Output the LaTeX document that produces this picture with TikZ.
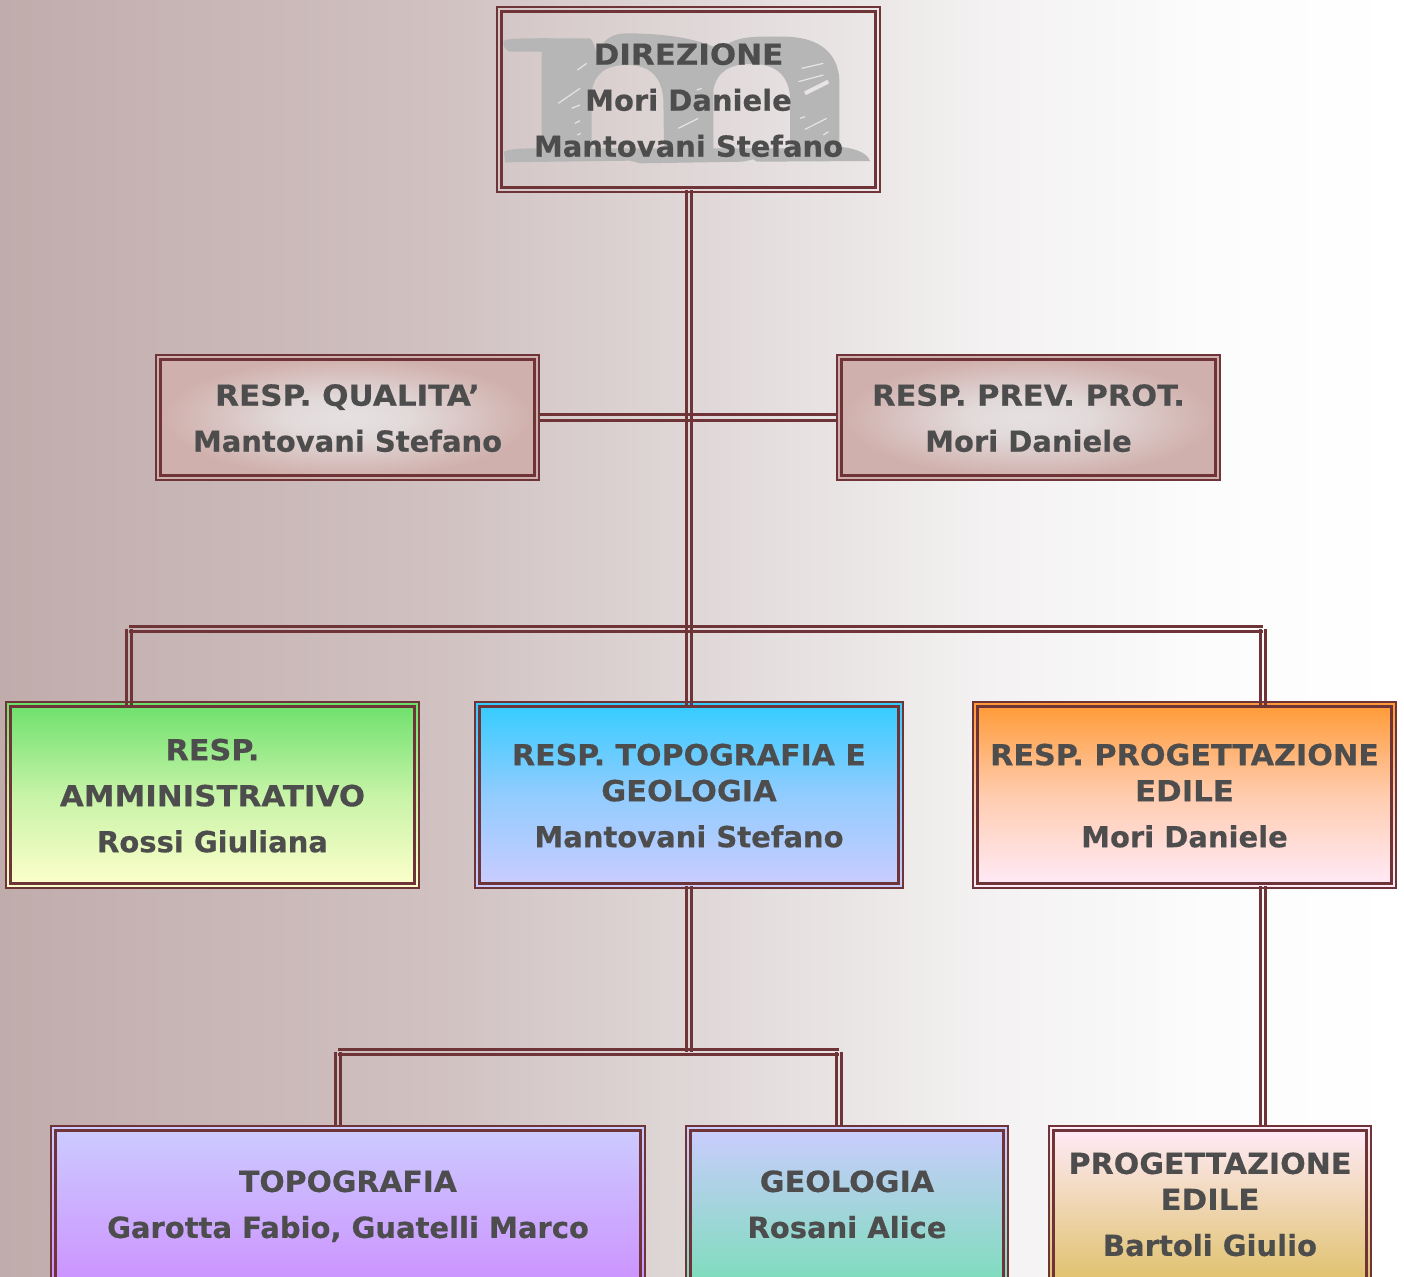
\documentclass[tikz,border=0pt]{standalone}
\usepackage{graphicx}
\usepackage{fontspec}
\setmainfont{DejaVu Sans}[BoldFeatures={FakeBold=0.4}]
\definecolor{frame}{HTML}{6E3438}
\definecolor{ink}{HTML}{4D4D4D}
\definecolor{logo}{HTML}{B6B6B6}
\definecolor{slash}{HTML}{E8E4E4}
\definecolor{bga}{RGB}{193,172,172}
\definecolor{bgb}{RGB}{208,192,192}
\definecolor{bgc}{RGB}{224,216,216}
\definecolor{bgd}{RGB}{243,241,241}
\definecolor{bge}{RGB}{252,252,252}
\definecolor{softa}{RGB}{230,225,225}
\definecolor{softm}{RGB}{226,218,218}
\definecolor{softc}{RGB}{208,176,172}
\definecolor{greenT}{RGB}{107,224,107}
\definecolor{greenB}{RGB}{255,255,204}
\definecolor{blueT}{RGB}{51,204,255}
\definecolor{lilac}{RGB}{204,204,255}
\definecolor{orangeT}{RGB}{255,153,51}
\definecolor{blush}{RGB}{255,235,250}
\definecolor{violetB}{RGB}{204,136,255}
\definecolor{tealB}{RGB}{110,224,175}
\definecolor{goldB}{RGB}{218,185,80}
\pgfdeclarehorizontalshading{pagebg}{100bp}{color(0bp)=(bga);color(25bp)=(bga);color(40bp)=(bgb);color(50bp)=(bgc);color(60bp)=(bgd);color(68bp)=(bge);color(75bp)=(white);color(100bp)=(white)}
\pgfdeclareradialshading{softbox}{\pgfpoint{0bp}{0bp}}{color(0bp)=(softa);color(8bp)=(softm);color(24bp)=(softc);color(50bp)=(softc)}
\tikzset{
  outerbox/.style={draw=frame,line width=1.1pt,inner sep=0pt,outer sep=0pt,text=ink,
    font=\fontsize{14.5}{18}\selectfont\bfseries},
  innerline/.style={draw=frame,line width=1.4pt},
  link/.style={draw=frame,line width=1.35pt},
  tfill/.style 2 args={top color=#1,bottom color=#2},
  tmid/.style 2 args={top color=#1,bottom color=#2,middle color=#1!38!#2},
}
\newcommand\sx[2]{\scalebox{#1}[1]{#2}}
% name, x0, y0, x1, y1, fill options, raise, text
\newcommand\orgbox[8]{%
  \pgfmathsetmacro\bxw{(#4-#2)*0.5}\pgfmathsetmacro\bxh{(#5-#3)*0.5}%
  \node[outerbox,minimum width=\bxw pt,minimum height=\bxh pt,#6] (#1) at ({(#2+#4)/2},{(#3+#5)/2})
    {\raisebox{#7pt}[0pt][0pt]{\begin{tabular}{@{}c@{}}#8\end{tabular}}};
  \draw[innerline] ([shift={(4.5,4.5)}]#1.north west) rectangle ([shift={(-4.5,-4.5)}]#1.south east);
}
\newcommand\vtwin[2]{%
  \draw[link,transform canvas={xshift=-1.35pt}] (#1) -- (#2);
  \draw[link,transform canvas={xshift=1.35pt}] (#1) -- (#2);}
\newcommand\htwin[2]{%
  \draw[link,transform canvas={yshift=-1.35pt}] (#1) -- (#2);
  \draw[link,transform canvas={yshift=1.35pt}] (#1) -- (#2);}
\begin{document}
\begin{tikzpicture}[x=0.5pt,y=-0.5pt]
\useasboundingbox (0,0) rectangle (1404,1276);
\clip (0,0) rectangle (1404,1276);
\shade[shading=pagebg] (0,0) rectangle (1404,1276);
% logo
\begin{scope}[x=0.166667pt,y=-0.166667pt,shift={(1470,0)}]
\fill[logo,even odd rule]
  (40,125) .. controls (42,112) and (120,115) .. (300,115)
  .. controls (310,120) and (315,150) .. (322,160)
  .. controls (340,115) and (370,100) .. (410,100)
  .. controls (470,100) and (610,105) .. (690,150)
  .. controls (730,110) and (780,108) .. (880,110)
  .. controls (1000,110) and (1045,170) .. (1048,240)
  -- (1048,440) .. controls (1090,445) and (1130,455) .. (1140,483)
  -- (800,485) -- (790,478) -- (760,485) -- (450,490) -- (420,482) -- (45,487)
  -- (42,455) .. controls (60,445) and (110,445) .. (155,445)
  -- (155,155) -- (60,155) .. controls (45,150) and (40,140) .. (40,125) -- cycle
  (305,445) -- (305,280) .. controls (310,220) and (350,195) .. (410,195)
  .. controls (480,195) and (515,230) .. (520,300) -- (522,445) -- cycle
  (670,445) -- (670,270) .. controls (680,215) and (720,192) .. (780,192)
  .. controls (850,190) and (895,220) .. (900,290) -- (900,445) -- cycle;
\draw[slash,line width=0.6pt]
  (262,210) -- (290,190) (205,310) -- (270,265) (245,325) -- (270,315)
  (255,370) -- (270,362) (262,405) -- (272,400)
  (935,205) -- (1000,190) (925,245) -- (1000,225)
  (930,355) -- (945,350) (945,388) -- (1010,355) (1000,405) -- (1015,395)
  (565,385) -- (625,355) (620,270) -- (635,265);
\draw[slash,line width=2pt] (945,280) -- (1015,245);
\end{scope}
\orgbox{dir}{497}{7}{880}{192}{}{-5.6}{\sx{1.068}{DIREZIONE}\\[5pt]Mori Daniele\\[5pt]Mantovani Stefano}
\orgbox{rq}{156}{355}{539}{480}{shading=softbox}{-5.6}{\sx{1.07}{RESP. QUALITA’}\\[5pt]Mantovani Stefano}
\orgbox{rp}{837}{355}{1220}{480}{shading=softbox}{-5.6}{\sx{1.05}{RESP. PREV. PROT.}\\[5pt]Mori Daniele}
\orgbox{ra}{6}{702}{419}{888}{tmid={greenT}{greenB}}{-5.6}{\sx{1.044}{RESP.}\\[5pt]\sx{1.066}{AMMINISTRATIVO}\\[5pt]Rossi Giuliana}
\orgbox{rt}{475}{702}{903}{888}{tmid={blueT}{lilac}}{-5.6}{\sx{1.035}{RESP. TOPOGRAFIA E}\\\sx{1.048}{GEOLOGIA}\\[5pt]Mantovani Stefano}
\orgbox{rd}{973}{702}{1396}{888}{tmid={orangeT}{blush}}{-5.6}{\sx{1.043}{RESP. PROGETTAZIONE}\\\sx{1.065}{EDILE}\\[5pt]Mori Daniele}
\orgbox{to}{51}{1126}{645}{1313}{tfill={lilac}{violetB}}{2.3}{\sx{1.028}{TOPOGRAFIA}\\[5pt]Garotta Fabio, Guatelli Marco}
\orgbox{ge}{686}{1126}{1008}{1313}{tfill={lilac}{tealB}}{2.3}{\sx{1.042}{GEOLOGIA}\\[5pt]Rosani Alice}
\orgbox{pe}{1049}{1126}{1371}{1313}{tfill={blush}{goldB}}{2.3}{\sx{1.037}{PROGETTAZIONE}\\\sx{1.065}{EDILE}\\[5pt]Bartoli Giulio}
% junctions
\coordinate (topL) at (129,629);
\coordinate (topR) at (1263,629);
\coordinate (raIn) at (129,705);
\coordinate (rdIn) at (1263,705);
\coordinate (rtIn) at (689,705);
\coordinate (dirOut) at (689,190);
\coordinate (rtOut) at (689,886);
\coordinate (midJ) at (689,1052);
\coordinate (lowL) at (338,1052);
\coordinate (lowR) at (839,1052);
\coordinate (toIn) at (338,1127);
\coordinate (geIn) at (839,1127);
\coordinate (rdOut) at (1263,886);
\coordinate (peIn) at (1263,1127);
\vtwin{dirOut}{rtIn}
\htwin{rq.east}{rp.west}
\htwin{topL}{topR}
\vtwin{topL}{raIn}
\vtwin{topR}{rdIn}
\vtwin{rtOut}{midJ}
\htwin{lowL}{lowR}
\vtwin{lowL}{toIn}
\vtwin{lowR}{geIn}
\vtwin{rdOut}{peIn}
\end{tikzpicture}
\end{document}
